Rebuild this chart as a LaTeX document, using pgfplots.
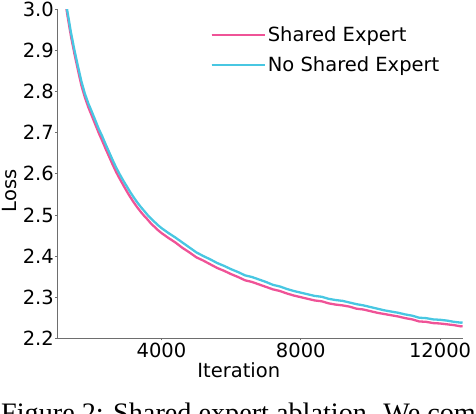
\documentclass[border=0pt]{standalone}
\usepackage{fontspec}
\setmainfont{DejaVu Sans}
\newfontfamily\capfont{Liberation Serif}
\usepackage{pgfplots}
\pgfplotsset{compat=1.18}

\definecolor{shared}{RGB}{239,83,151}
\definecolor{noshared}{RGB}{72,199,226}
\definecolor{spine}{RGB}{110,110,110}
\newcommand\fs{\fontsize{19.5pt}{23pt}\selectfont}

\begin{document}
\begin{tikzpicture}
\useasboundingbox (0,0) rectangle (476pt,414pt);
\begin{axis}[
    at={(57pt,75.7pt)}, anchor=south west,
    scale only axis,
    width=405.7pt, height=329pt,
    xmin=1000, xmax=12650,
    ymin=2.2, ymax=3.0,
    axis x line*=bottom, axis y line*=left,
    axis line style={spine, line width=0.9pt},
    every tick/.style={spine, line width=0.8pt},
    tick align=outside, major tick length=2pt,
    xtick={4000,8000,12000},
    scaled x ticks=false,
    ytick={2.2,2.3,2.4,2.5,2.6,2.7,2.8,2.9,3.0},
    /pgf/number format/assume math mode=true,
    xticklabel style={/pgf/number format/set thousands separator={}, inner sep=0pt, yshift=-3pt},
    yticklabel style={/pgf/number format/fixed, /pgf/number format/fixed zerofill,
      /pgf/number format/precision=1, inner sep=0pt, xshift=-1pt},
    tick label style={font=\fs},
    legend style={at={(axis description cs:0.378,0.954)}, anchor=north west,
      draw=none, fill=none, font=\fs, row sep=10pt, inner sep=0pt},
    legend cell align=left,
    legend image code/.code={\draw[#1] (0pt,0pt) -- (42pt,0pt); \path (0pt,0pt) -- (53pt,0pt);},
  ]
\addplot[shared, line width=2.3pt] coordinates {
(1000,3.160) (1100,3.095) (1200,3.040) (1300,2.985) (1400,2.935) (1500,2.892)
(1600,2.853) (1700,2.815) (1800,2.786) (1900,2.762) (2000,2.741) (2100,2.720)
(2200,2.699) (2300,2.680) (2400,2.660) (2500,2.641) (2600,2.622) (2700,2.604)
(2800,2.588) (2900,2.573) (3000,2.558) (3100,2.544) (3200,2.531) (3300,2.519)
(3400,2.508) (3500,2.498) (3600,2.489) (3700,2.479) (3800,2.471) (3900,2.463)
(4000,2.456) (4200,2.444) (4400,2.433) (4600,2.420) (4800,2.409) (5000,2.397)
(5200,2.389) (5400,2.380) (5600,2.371) (5800,2.364) (6000,2.356) (6200,2.349)
(6400,2.341) (6600,2.337) (6800,2.331) (7000,2.325) (7200,2.319) (7400,2.315)
(7600,2.309) (7800,2.304) (8000,2.300) (8200,2.296) (8400,2.292) (8600,2.290)
(8800,2.285) (9000,2.282) (9200,2.280) (9400,2.277) (9600,2.272) (9800,2.270)
(10000,2.266) (10200,2.262) (10400,2.259) (10600,2.256) (10800,2.253) (11000,2.249)
(11200,2.246) (11400,2.241) (11600,2.240) (11800,2.237) (12000,2.236) (12200,2.234)
(12400,2.232) (12600,2.229) (12690,2.230)
};
\addlegendentry{Shared Expert}
\addplot[noshared, line width=2.3pt] coordinates {
(1000,3.168) (1100,3.104) (1200,3.048) (1300,2.994) (1400,2.944) (1500,2.901)
(1600,2.862) (1700,2.825) (1800,2.795) (1900,2.771) (2000,2.751) (2100,2.730)
(2200,2.709) (2300,2.691) (2400,2.671) (2500,2.652) (2600,2.633) (2700,2.615)
(2800,2.599) (2900,2.584) (3000,2.570) (3100,2.556) (3200,2.543) (3300,2.531)
(3400,2.520) (3500,2.510) (3600,2.500) (3700,2.491) (3800,2.483) (3900,2.475)
(4000,2.468) (4200,2.456) (4400,2.445) (4600,2.433) (4800,2.421) (5000,2.409)
(5200,2.400) (5400,2.392) (5600,2.383) (5800,2.376) (6000,2.368) (6200,2.361)
(6400,2.353) (6600,2.349) (6800,2.343) (7000,2.337) (7200,2.330) (7400,2.326)
(7600,2.320) (7800,2.315) (8000,2.311) (8200,2.307) (8400,2.303) (8600,2.301)
(8800,2.296) (9000,2.293) (9200,2.291) (9400,2.287) (9600,2.283) (9800,2.280)
(10000,2.276) (10200,2.272) (10400,2.268) (10600,2.265) (10800,2.262) (11000,2.258)
(11200,2.255) (11400,2.250) (11600,2.249) (11800,2.246) (12000,2.245) (12200,2.243)
(12400,2.240) (12600,2.238) (12690,2.239)
};
\addlegendentry{No Shared Expert}
\end{axis}
\node[rotate=90, anchor=center, font=\fs, inner sep=0pt] at (9.3pt,223pt) {Loss};
\node[anchor=base, font=\fs, inner sep=0pt] at (238.8pt,36.7pt) {Iteration};
\node[anchor=base west, inner sep=0pt, font=\capfont\fontsize{28.2pt}{32pt}\selectfont]
  at (1pt,-8.9pt) {Figure 2: Shared expert ablation. We compare};
\end{tikzpicture}
\end{document}
